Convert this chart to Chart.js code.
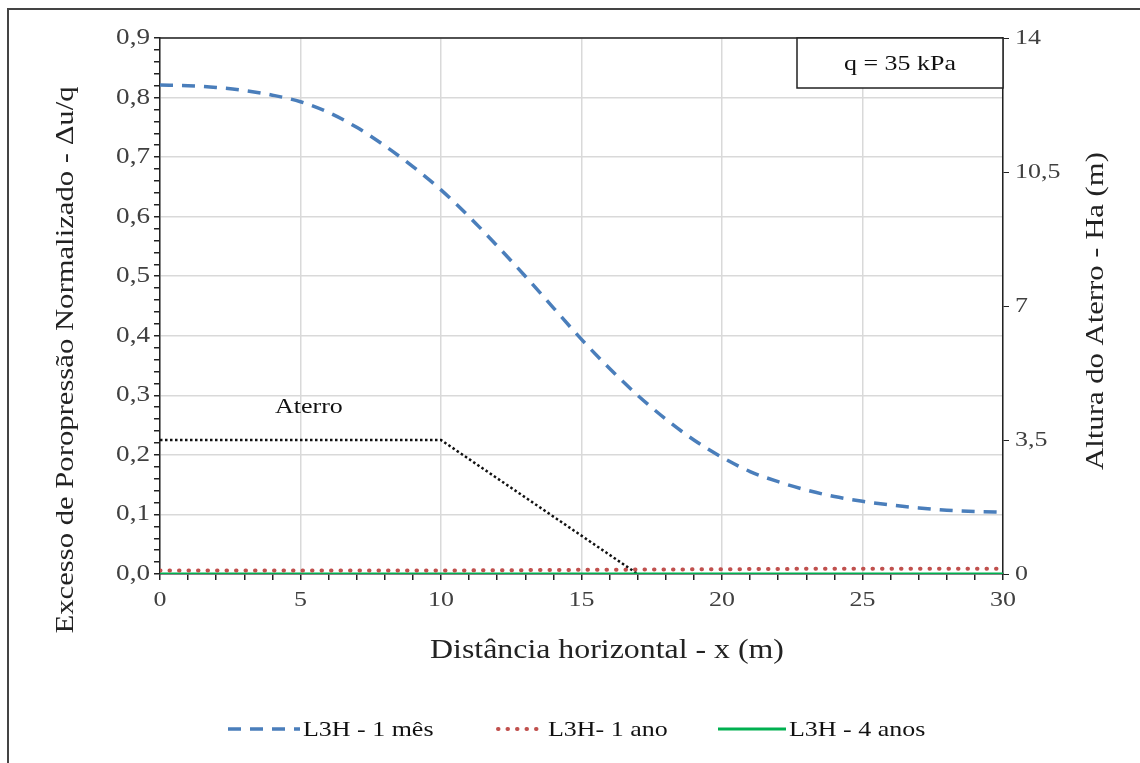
<!DOCTYPE html>
<html>
<head>
<meta charset="utf-8">
<script src="https://cdn.jsdelivr.net/npm/chart.js@4.4.0/dist/chart.umd.min.js"></script>
<style>
  html, body { margin: 0; padding: 0; background: #fff; }
  #wrap { width: 1140px; height: 763px; position: relative; }
</style>
</head>
<body>
<div id="wrap"><canvas id="poroChart"></canvas></div>
<script>
// distância horizontal (m) e excesso normalizado para cada curva
const xMes = [0, 1, 2, 3, 4, 5, 6, 7, 8, 9, 10, 11, 12, 13, 14, 15, 16, 17, 18, 19, 20, 21, 22, 23, 24, 25, 26, 27, 28, 29, 30];
const umMes = [0.821, 0.820, 0.817, 0.812, 0.804, 0.793, 0.775, 0.750, 0.719, 0.684, 0.645, 0.600, 0.551, 0.500, 0.447, 0.394, 0.345, 0.300, 0.260, 0.225, 0.196, 0.172, 0.155, 0.141, 0.130, 0.122, 0.116, 0.111, 0.107, 0.105, 0.104];
const xAno = [0, 5, 10, 15, 20, 25, 30];
const umAno = [0.006, 0.006, 0.006, 0.007, 0.008, 0.009, 0.009];
const quatroAnos = [0, 0, 0, 0, 0, 0, 0];
// geometria do aterro (altura em m, eixo da direita)
const xAterro = [0, 10, 17];
const hAterro = [3.5, 3.5, 0];

const FONT = '"Liberation Serif", "Times New Roman", serif';
const INK = '#404040';
const STRETCH = 1.18; // fonte um pouco mais larga, como no Excel exportado

const pts = (xs, ys) => xs.map((x, i) => ({ x: x, y: ys[i] }));
const comma = (v, d) => v.toFixed(d).replace('.', ',');
const labelX = (v) => (Math.round(v) % 5 === 0) ? String(Math.round(v)) : '';
const labelY = (v) => (Math.round(v * 100) % 10 === 0) ? comma(v, 1) : '';
const labelY2 = (v) => (Number.isInteger(v) ? String(v) : comma(v, 1));

// texto com largura esticada
function txt(ctx, s, x, y, align, size, color, rot) {
  ctx.save();
  ctx.font = size + 'px ' + FONT;
  ctx.fillStyle = color;
  ctx.textBaseline = 'middle';
  ctx.translate(x, y);
  if (rot) ctx.rotate(rot);
  ctx.scale(STRETCH, 1);
  ctx.textAlign = align;
  ctx.fillText(s, 0, 0);
  ctx.restore();
}

const extras = {
  id: 'extras',
  afterDraw(chart) {
    const { ctx, chartArea: a } = chart;
    const sx = chart.scales.x, sy = chart.scales.y, sy2 = chart.scales.y2;
    ctx.save();

    // moldura externa (topo e esquerda)
    ctx.strokeStyle = '#444';
    ctx.lineWidth = 2;
    ctx.beginPath();
    ctx.moveTo(8, 763);
    ctx.lineTo(8, 9);
    ctx.lineTo(1140, 9);
    ctx.stroke();

    // linha superior da área do gráfico
    ctx.strokeStyle = '#222';
    ctx.lineWidth = 1.5;
    ctx.beginPath();
    ctx.moveTo(a.left, a.top);
    ctx.lineTo(a.right, a.top);
    ctx.stroke();

    // rótulos dos eixos
    sx.ticks.forEach(t => {
      const s = labelX(t.value);
      if (s) txt(ctx, s, sx.getPixelForValue(t.value), a.bottom + 26, 'center', 22, INK);
    });
    sy.ticks.forEach(t => {
      const s = labelY(t.value);
      if (s) txt(ctx, s, a.left - 10, sy.getPixelForValue(t.value), 'right', 23, INK);
    });
    sy2.ticks.forEach(t => {
      txt(ctx, labelY2(t.value), a.right + 12, sy2.getPixelForValue(t.value), 'left', 22, INK);
    });

    // caixa da carga
    ctx.fillStyle = '#fff';
    ctx.fillRect(797, a.top, a.right - 797, 50);
    ctx.strokeRect(797, a.top, a.right - 797, 50);
    txt(ctx, 'q = 35 kPa', (797 + a.right) / 2, a.top + 26, 'center', 22, '#111');

    // rótulo do aterro
    txt(ctx, 'Aterro', sx.getPixelForValue(5.3), sy2.getPixelForValue(4.36), 'center', 22, '#111');

    // títulos dos eixos
    txt(ctx, 'Distância horizontal - x (m)', 607, 651, 'center', 27, '#222');
    txt(ctx, 'Excesso de Poropressão Normalizado - \u0394u/q', 66, 360, 'center', 26, '#222', -Math.PI / 2);
    txt(ctx, 'Altura do Aterro - Ha (m)', 1096, 311, 'center', 26, '#222', -Math.PI / 2);

    // legenda
    const ly = 729;
    const items = [
      { ds: 0, x0: 228, x1: 300 },
      { ds: 1, x0: 498, x1: 545 },
      { ds: 2, x0: 718, x1: 786 }
    ];
    items.forEach(it => {
      const d = chart.data.datasets[it.ds];
      ctx.strokeStyle = d.borderColor;
      ctx.lineWidth = d.borderWidth;
      ctx.lineCap = d.borderCapStyle || 'butt';
      ctx.setLineDash(d.borderDash || []);
      ctx.beginPath();
      ctx.moveTo(it.x0, ly);
      ctx.lineTo(it.x1, ly);
      ctx.stroke();
      ctx.setLineDash([]);
      txt(ctx, d.label, it.x1 + 3, ly + 1, 'left', 22, '#111');
    });

    ctx.restore();
  }
};

new Chart(document.getElementById('poroChart'), {
  type: 'line',
  data: {
    datasets: [
      {
        label: 'L3H - 1 mês',
        data: pts(xMes, umMes),
        yAxisID: 'y',
        borderColor: '#4a7ebb',
        borderWidth: 3.5,
        borderDash: [13, 9],
        cubicInterpolationMode: 'monotone',
        pointRadius: 0
      },
      {
        label: 'L3H- 1 ano',
        data: pts(xAno, umAno),
        yAxisID: 'y',
        borderColor: '#c0504d',
        borderWidth: 4,
        borderDash: [0.5, 9],
        borderCapStyle: 'round',
        cubicInterpolationMode: 'monotone',
        pointRadius: 0
      },
      {
        label: 'L3H - 4 anos',
        data: pts(xAno, quatroAnos),
        yAxisID: 'y',
        borderColor: '#00b050',
        borderWidth: 3,
        pointRadius: 0
      },
      {
        label: 'Aterro',
        data: pts(xAterro, hAterro),
        yAxisID: 'y2',
        borderColor: '#111',
        borderWidth: 2.5,
        borderDash: [2.5, 2.5],
        tension: 0,
        pointRadius: 0
      }
    ]
  },
  options: {
    responsive: true,
    maintainAspectRatio: false,
    animation: false,
    layout: { padding: { top: 38, left: 0, right: 0, bottom: 0 } },
    plugins: {
      legend: { display: false },
      title: { display: false },
      tooltip: { enabled: false }
    },
    scales: {
      x: {
        type: 'linear',
        min: 0,
        max: 30,
        afterFit: (s) => { s.height = 189; },
        border: { color: '#222', width: 1.5 },
        grid: {
          color: (c) => (c.tick && Math.round(c.tick.value) % 5 === 0) ? '#d9d9d9' : 'rgba(0,0,0,0)',
          lineWidth: 1.5,
          tickColor: '#222',
          tickLength: 6
        },
        ticks: { stepSize: 1, autoSkip: false, display: false }
      },
      y: {
        position: 'left',
        min: 0,
        max: 0.9,
        afterFit: (s) => { s.width = 160; },
        border: { color: '#222', width: 1.5 },
        grid: {
          color: (c) => (c.tick && Math.round(c.tick.value * 100) % 10 === 0) ? '#d9d9d9' : 'rgba(0,0,0,0)',
          lineWidth: 1.5,
          tickColor: '#222',
          tickLength: 6
        },
        ticks: { stepSize: 0.02, autoSkip: false, display: false }
      },
      y2: {
        position: 'right',
        min: 0,
        max: 14,
        afterFit: (s) => { s.width = 137; },
        border: { color: '#222', width: 1.5 },
        grid: { drawOnChartArea: false, tickColor: '#222', tickLength: 6 },
        ticks: { stepSize: 3.5, display: false }
      }
    }
  },
  plugins: [extras]
});
</script>
</body>
</html>
